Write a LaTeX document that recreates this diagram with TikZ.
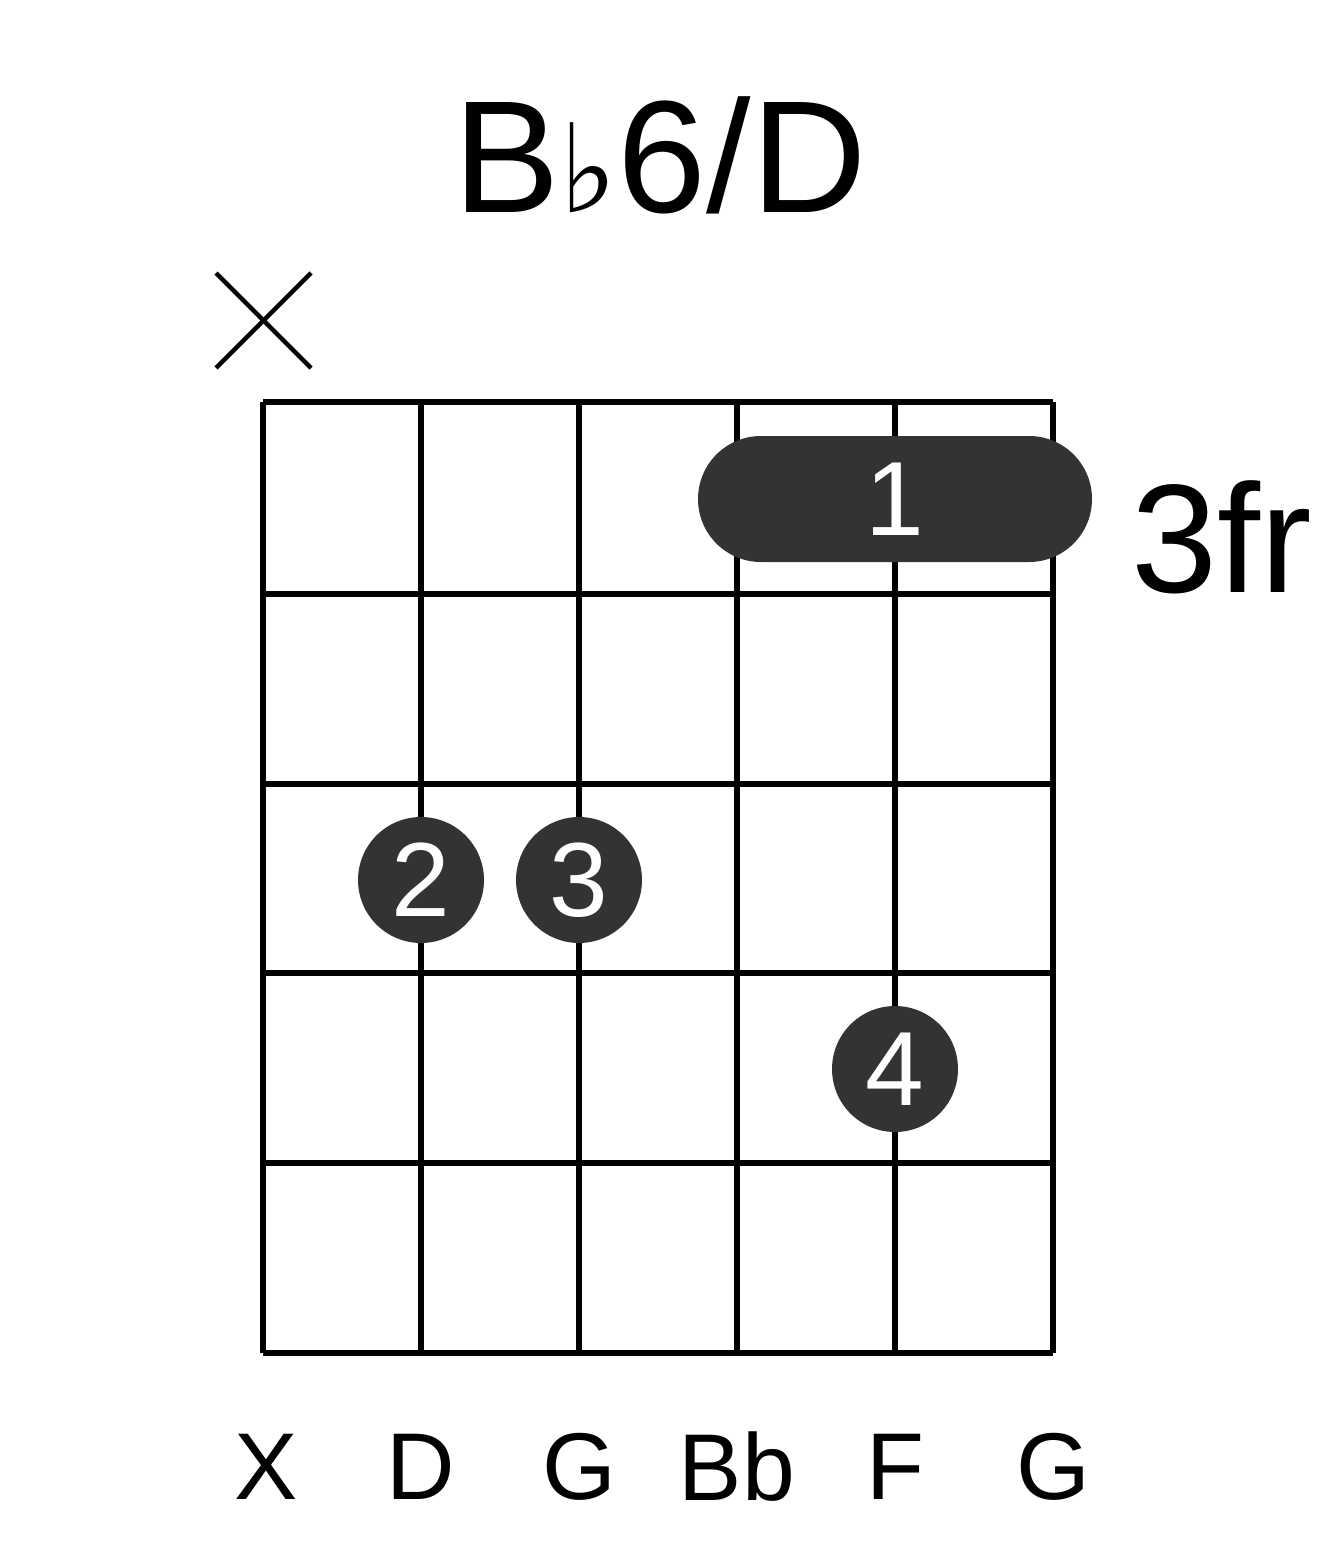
\documentclass[tikz,border=0pt]{standalone}
\usepackage{fontspec}
\setmainfont{Liberation Sans}
\newfontfamily\flatfont{DejaVu Sans}
\usetikzlibrary{positioning}
\definecolor{dotgray}{HTML}{333333}
\tikzset{
  finger/.style={circle,fill=dotgray,minimum size=2.52cm,inner sep=0pt,text=white,font=\fontsize{60}{60}\selectfont},
  strname/.style={font=\fontsize{54}{54}\selectfont},
}
\begin{document}
\begin{tikzpicture}[x=0.02cm,y=-0.02cm]
        \useasboundingbox (0,0) rectangle (1317,1551);
        \node (title) at (660,155) {\fontsize{91}{91}\selectfont B{\flatfont\fontsize{70}{70}\selectfont ♭}6/D};
        % strings and frets
        \foreach \x in {263,421,579,737,895,1053}
            \draw[line width=3.5pt] (\x,402) -- (\x,1353);
        \foreach \y in {402,594,784,973,1163,1353}
            \draw[line width=3.5pt] (263,\y) -- (1053,\y);
        % muted string
        \draw[line width=2.5pt] (216,273) -- (311,368) (216,368) -- (311,273);
        % barre
        \fill[dotgray,rounded corners=1.26cm] (698,436) rectangle (1092,562);
        \node[text=white,font=\fontsize{60}{60}\selectfont] (barre) at (895,499) {1};
        \node[anchor=west,font=\fontsize{88}{88}\selectfont] (fret) at (1125,537) {3fr};
        \node[finger] (f2) at (421,880) {2};
        \node[finger] (f3) at (579,880) {3};
        \node[finger] (f4) at (895,1069) {4};
        % string names
        \node[strname] (s1) at (266,1467) {X};
        \node[strname] (s2) at (421,1467) {D};
        \node[strname] (s3) at (579,1467) {G};
        \node[strname] (s4) at (737,1467) {Bb};
        \node[strname] (s5) at (895,1467) {F};
        \node[strname] (s6) at (1053,1467) {G};
\end{tikzpicture}
\end{document}
